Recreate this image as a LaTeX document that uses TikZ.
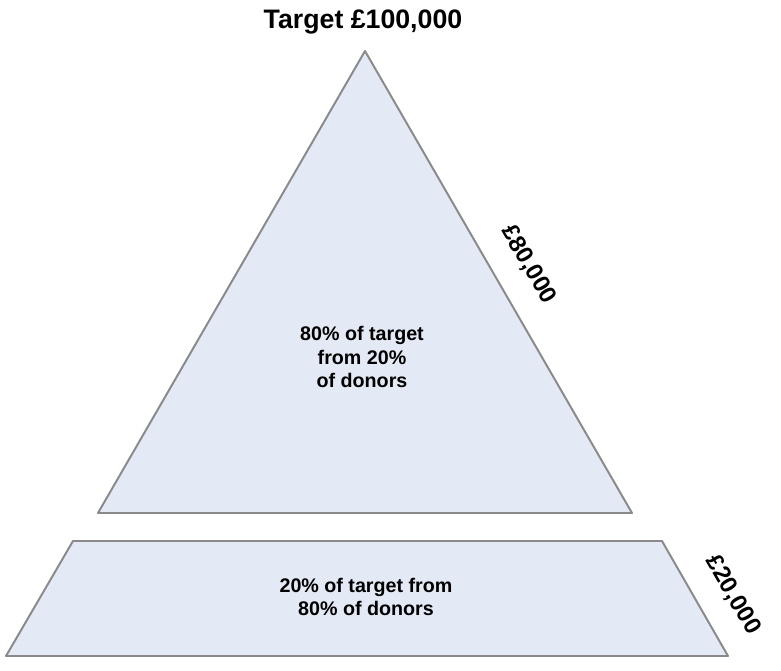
\documentclass[tikz,border=0pt]{standalone}
\usepackage{fontspec}
\setmainfont{Liberation Sans}
\usetikzlibrary{positioning, calc}
\definecolor{tierfill}{HTML}{E4EAF5}
\definecolor{tierline}{HTML}{8A8A8A}

\begin{document}
\begin{tikzpicture}[x=0.025cm, y=-0.025cm,
    tier/.style={draw=tierline, fill=tierfill, line width=1.4pt, line join=round},
    amount/.style={font=\fontsize{17}{20}\selectfont\bfseries, inner sep=0pt},
    note/.style={font=\fontsize{14}{17}\selectfont\bfseries, align=center}]
            \useasboundingbox (0,0) rectangle (781,670);

            % Triangle (top tier)
            \coordinate (apex) at (365,51);
            \coordinate (tbl) at (98,513);
            \coordinate (tbr) at (632,513);
            \draw[tier] (apex) -- (tbr) -- (tbl) -- cycle;

            % Trapezoid (bottom tier)
            \coordinate (ztl) at (73,541);
            \coordinate (ztr) at (662,541);
            \coordinate (zbr) at (728,656);
            \coordinate (zbl) at (6,656);
            \draw[tier] (ztl) -- (ztr) -- (zbr) -- (zbl) -- cycle;

            % Title
            \node[font=\fontsize{19}{22}\selectfont\bfseries] (title) at (363,22) {Target £100,000};

            % Tier texts
            \node[note] (toptxt) at (362,357) {80\% of target\\from 20\%\\of donors};
            \node[note] (bottxt) at (366,597) {20\% of target from\\80\% of donors};

            % Amounts along the right edges
            \path (apex) -- node[amount, sloped, above=0.6cm] (topamt) {£80,000} (tbr);
            \path (ztr) -- node[amount, sloped, above=0.6cm, pos=0.62] (botamt) {£20,000} (zbr);
        \end{tikzpicture}
\end{document}
